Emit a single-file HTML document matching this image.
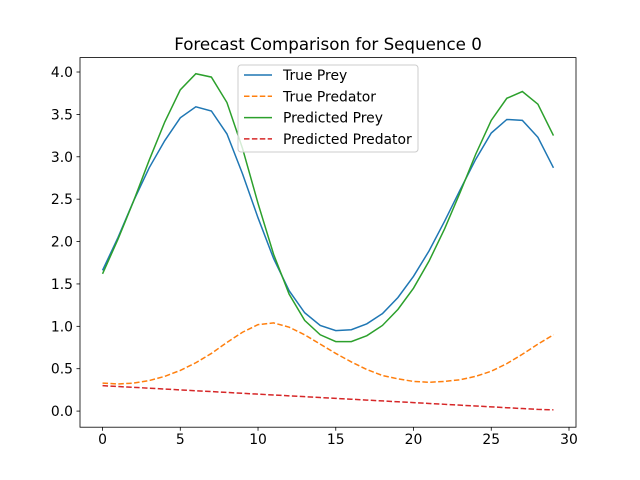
<!DOCTYPE html>
<html><head><meta charset="utf-8"><style>
html,body{margin:0;padding:0;background:#fff}
svg{display:block;font-family:"DejaVu Sans","Liberation Sans",sans-serif}
</style></head><body>
<svg id="chart" width="640" height="480" viewBox="0 0 640 480">
<rect width="640" height="480" fill="#fff"/>
<text x="328" y="50" font-size="16.7" text-anchor="middle">Forecast Comparison for Sequence 0</text>
<g id="plot"></g>
</svg>
<script>
const xTicks = [0,5,10,15,20,25,30];
const yTicks = [0.0,0.5,1.0,1.5,2.0,2.5,3.0,3.5,4.0];
const trueP = [1.66,2.05,2.48,2.87,3.19,3.46,3.59,3.54,3.27,2.8,2.28,1.8,1.42,1.16,1.01,0.95,0.96,1.03,1.15,1.34,1.59,1.89,2.24,2.61,2.97,3.28,3.44,3.43,3.23,2.87];
const predP = [1.62,2.03,2.48,2.96,3.41,3.79,3.98,3.94,3.64,3.1,2.45,1.85,1.38,1.07,0.9,0.82,0.82,0.89,1.01,1.2,1.45,1.77,2.15,2.58,3.03,3.43,3.69,3.77,3.62,3.25];
const trueD = [0.33,0.32,0.33,0.36,0.41,0.48,0.57,0.68,0.81,0.93,1.02,1.04,0.99,0.9,0.79,0.68,0.58,0.49,0.42,0.38,0.35,0.34,0.35,0.37,0.41,0.47,0.56,0.67,0.79,0.9];
const predD = [0.30,0.29,0.28,0.27,0.26,0.25,0.24,0.23,0.22,0.21,0.20,0.19,0.18,0.17,0.16,0.15,0.14,0.13,0.12,0.11,0.10,0.09,0.08,0.07,0.06,0.05,0.04,0.03,0.02,0.015];
const L=80,R=576,T=57.6,B=427.2;
const xMin=-1.45,xMax=30.45,yMin=-0.19,yMax=4.17;
const sx=v=>L+(v-xMin)/(xMax-xMin)*(R-L);
const sy=v=>B-(v-yMin)/(yMax-yMin)*(B-T);
const NS="http://www.w3.org/2000/svg";
const g=document.getElementById('plot');
function mk(t,a){const e=document.createElementNS(NS,t);for(const k in a)e.setAttribute(k,a[k]);g.appendChild(e);return e;}
function series(vals,color,dash,name){
  const e=mk('polyline',{points:vals.map((v,i)=>sx(i)+','+sy(v)).join(' '),fill:'none',stroke:color,'stroke-width':1.5,'stroke-dasharray':dash||'none'});
  
  
}
series(trueP,'#1f77b4',null,'true-prey-line');
series(trueD,'#ff7f0e','5.5,2.4','true-predator-line');
series(predP,'#2ca02c',null,'predicted-prey-line');
series(predD,'#d62728','5.5,2.4','predicted-predator-line');
const ax=mk('rect',{x:L,y:T,width:R-L,height:B-T,fill:'none',stroke:'#000','stroke-width':0.8});


xTicks.forEach(v=>{
  const x=sx(v);
  mk('line',{x1:x,x2:x,y1:B,y2:B+3.5,stroke:'#000','stroke-width':0.8});
  const t=mk('text',{x:x,y:B+17,'font-size':13.9,'text-anchor':'middle'});t.textContent=v;
  
  
});
yTicks.forEach(v=>{
  const y=sy(v);
  mk('line',{x1:L-3.5,x2:L,y1:y,y2:y,stroke:'#000','stroke-width':0.8});
  const t=mk('text',{x:L-7,y:y+5,'font-size':13.9,'text-anchor':'end'});t.textContent=v.toFixed(1);
  
  
});
const lg=mk('rect',{x:238,y:65,width:180,height:87,rx:3,fill:'#fff','fill-opacity':0.8,stroke:'#ccc','stroke-width':1});


const items=[['True Prey','#1f77b4',null],['True Predator','#ff7f0e','5.5,2.4'],['Predicted Prey','#2ca02c',null],['Predicted Predator','#d62728','5.5,2.4']];
items.forEach((it,i)=>{
  const y=75+i*21.3;
  mk('line',{x1:244,x2:272,y1:y,y2:y,stroke:it[1],'stroke-width':1.5,'stroke-dasharray':it[2]||'none'});
  const t=mk('text',{x:283,y:y+5,'font-size':13.9});t.textContent=it[0];
  
  
});
</script>
</body></html>
